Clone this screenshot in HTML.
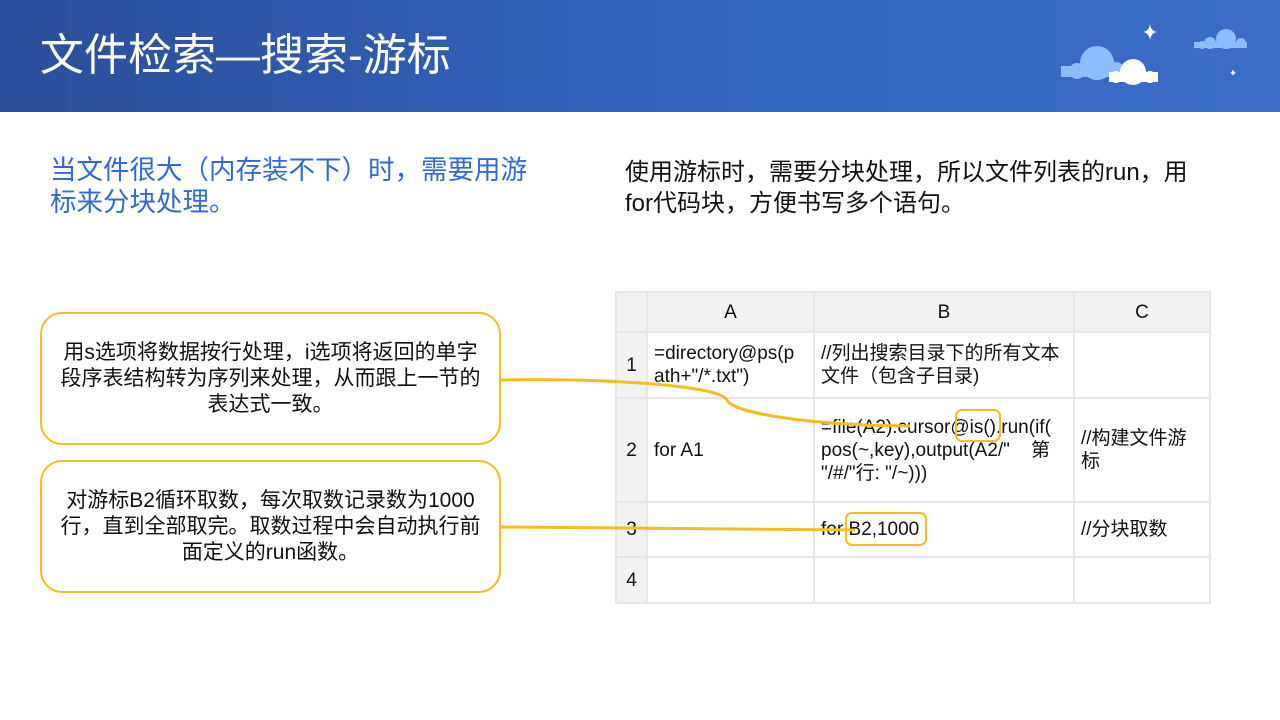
<!DOCTYPE html>
<html><head><meta charset="utf-8"><style>
body{margin:0;width:1280px;height:720px;position:relative;background:#fff;font-family:"Liberation Sans","Noto Sans CJK SC",sans-serif;overflow:hidden}
.hdr{position:absolute;left:0;top:0;width:1280px;height:112px;background:linear-gradient(90deg,#2a4f9b,#3467c4 60%,#3a6cc8)}
.title{position:absolute;left:40px;top:30px;color:#fff;font-size:44px;line-height:52px;white-space:nowrap}
.t{position:absolute;font-size:24px;line-height:31px;white-space:nowrap}
.box{position:absolute;border:2px solid #f5bd1f;border-radius:22px;background:#fff;font-size:21px;line-height:26px;text-align:center;color:#111;display:flex;align-items:center;justify-content:center;box-sizing:border-box;white-space:nowrap}
table{position:absolute;left:615px;top:291px;border-collapse:collapse;font-size:19px;color:#111;white-space:nowrap}
td{border:2px solid #e6e6e6;padding:0 6px;vertical-align:middle;line-height:23px}
.h{background:#f2f2f2;text-align:center}
</style></head><body>
<div class="hdr"></div>
<div class="title">文件检索—搜索-游标</div>
<svg style="position:absolute;left:0;top:0" width="1280" height="112">
<g fill="#8dbdfc"><circle cx="1097" cy="63" r="17"/><circle cx="1077" cy="71" r="8"/><circle cx="1116" cy="70" r="8"/><rect x="1061" y="66" width="68" height="11"/></g>
<g fill="#fff"><circle cx="1133" cy="72" r="13"/><circle cx="1116" cy="77" r="6"/><circle cx="1150" cy="77" r="6"/><rect x="1109" y="72" width="49" height="10"/></g>
<g fill="#8dbdfc"><circle cx="1226" cy="39" r="10"/><circle cx="1210" cy="43" r="6"/><circle cx="1241" cy="43" r="5"/><rect x="1194" y="42" width="53" height="6"/><circle cx="1202" cy="45" r="4"/></g>
<path d="M1150 24 q1 7 7 8 q-6 1 -7 8 q-1 -7 -7 -8 q6 -1 7 -8z" fill="#fff"/>
<path d="M1233 69 q0.5 3 3 4 q-2.5 0.5 -3 3 q-0.5 -2.5 -3 -3 q2.5 -1 3 -4z" fill="#fff"/>
</svg>
<div class="t" style="left:50px;top:154px;color:#2f6bd8;font-size:26.5px;line-height:32px">当文件很大（内存装不下）时，需要用游<br>标来分块处理。</div>
<div class="t" style="left:625px;top:157px;color:#111">使用游标时，需要分块处理，所以文件列表的run，用<br>for代码块，方便书写多个语句。</div>
<table>
<tr style="height:40px"><td class="h" style="width:17px"></td><td class="h" style="width:153px">A</td><td class="h" style="width:246px">B</td><td class="h" style="width:122px">C</td></tr>
<tr style="height:66px"><td class="h">1</td><td>=directory@ps(p<br>ath+"/*.txt")</td><td>//列出搜索目录下的所有文本<br>文件（包含子目录)</td><td></td></tr>
<tr style="height:104px"><td class="h">2</td><td>for A1</td><td>=file(A2).cursor@is().run(if(<br>pos(~,key),output(A2/"&nbsp;&nbsp;&nbsp;&nbsp;第<br>"/#/"行: "/~)))</td><td>//构建文件游<br>标</td></tr>
<tr style="height:55px"><td class="h">3</td><td></td><td>for B2,1000</td><td>//分块取数</td></tr>
<tr style="height:46px"><td class="h">4</td><td></td><td></td><td></td></tr>
</table>
<div class="box" style="left:40px;top:312px;width:461px;height:133px">用s选项将数据按行处理，i选项将返回的单字<br>段序表结构转为序列来处理，从而跟上一节的<br>表达式一致。</div>
<div class="box" style="left:40px;top:460px;width:461px;height:133px">对游标B2循环取数，每次取数记录数为1000<br>行，直到全部取完。取数过程中会自动执行前<br>面定义的run函数。</div>
<svg style="position:absolute;left:0;top:0" width="1280" height="720">
<path d="M501 380 C600 378 720 385 727 400 C732 412 800 425 910 426" fill="none" stroke="#f5bd1f" stroke-width="3"/>
<path d="M501 527 L855 530" fill="none" stroke="#f5bd1f" stroke-width="3"/>
<rect x="956" y="410" width="44" height="31" rx="6" fill="none" stroke="#f5bd1f" stroke-width="2"/>
<rect x="846" y="513" width="80" height="32" rx="6" fill="none" stroke="#f5bd1f" stroke-width="2"/>
</svg>
</body></html>
